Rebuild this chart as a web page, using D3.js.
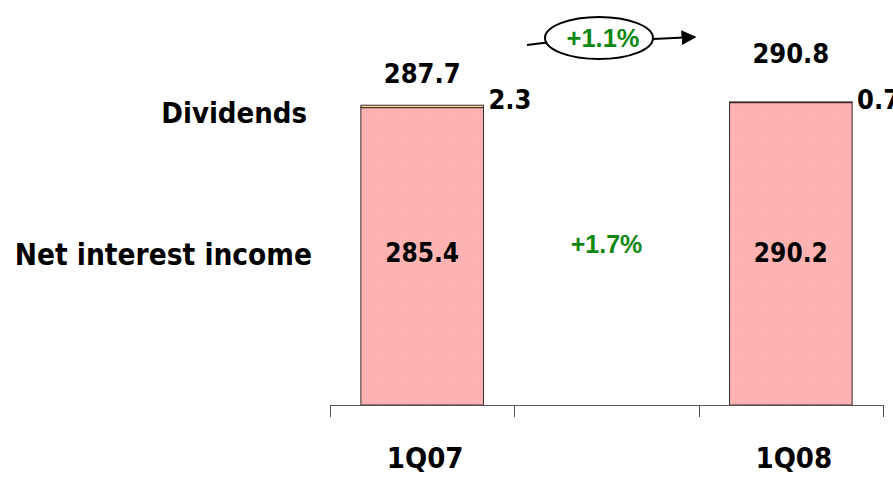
<!DOCTYPE html>
<html lang="en">
    <head>
        <meta charset="utf-8">
        <title>Net interest income</title>
        <script type="text/javascript" src="https://cdn.jsdelivr.net/npm/d3@7"></script>
        <style>
            body { margin: 0; background: #fff; }
            text { font-family: "DejaVu Sans Condensed", "DejaVu Sans", Verdana, sans-serif; font-weight: bold; }
            text.pct { font-family: "Liberation Sans", Arial, sans-serif; }
        </style>
    </head>
    <body>
        <script type="text/javascript">

            // chart data
            var slots = ["1Q07", "gap", "1Q08"];
            var periods = ["1Q07", "1Q08"];
            var netInterest = [285.4, 290.2];
            var dividends = [2.3, 0.7];
            var totals = [287.7, 290.8];
            var seriesNames = ["Dividends", "Net interest income"];
            var growthNii = "+1.7%";
            var growthTotal = "+1.1%";

            var w = 893, h = 477;
            var svg = d3.select("body").append("svg").attr("width", w).attr("height", h);

            var x = d3.scaleBand().domain(slots).range([330, 883]).padding(0);
            var y = d3.scaleLinear().domain([0, 290.8]).range([405, 102]);
            var barW = x.bandwidth() * 0.665;
            var green = "#0e880e";

            // pattern for the dotted pink fill
            var defs = svg.append("defs");
            var pat = defs.append("pattern").attr("id", "dots").attr("width", 3).attr("height", 3)
                            .attr("patternUnits", "userSpaceOnUse");
            pat.append("rect").attr("width", 3).attr("height", 3).attr("fill", "#ffb4b4");
            pat.append("rect").attr("width", 1).attr("height", 1).attr("fill", "#f9abab");
            defs.append("marker").attr("id", "arrow").attr("viewBox", "0 0 10 10")
                            .attr("refX", 9).attr("refY", 5).attr("markerWidth", 7.5).attr("markerHeight", 7.5)
                            .attr("orient", "auto")
                            .append("path").attr("d", "M0,0 L10,5 L0,10 z").attr("fill", "#000");

            var data = periods.map(function(p, i) {
                return {p: p, nii: netInterest[i], div: dividends[i], total: totals[i], i: i};
            });

            function cx(d) { return x(d.p) + x.bandwidth() / 2; }

            // bars - net interest income
            svg.selectAll("rect.nii").data(data).enter().append("rect")
                            .attr("class", "nii")
                            .attr("x", function(d) { return cx(d) - barW / 2; })
                            .attr("y", function(d) { return y(d.nii); })
                            .attr("width", barW)
                            .attr("height", function(d) { return y(0) - y(d.nii); })
                            .attr("fill", "url(#dots)")
                            .attr("stroke", "#3a2a2a").attr("stroke-width", 1);

            // bars - dividends (stacked on top)
            svg.selectAll("rect.div").data(data).enter().append("rect")
                            .attr("class", "div")
                            .attr("x", function(d) { return cx(d) - barW / 2; })
                            .attr("y", function(d) { return y(d.nii + d.div); })
                            .attr("width", barW)
                            .attr("height", function(d) { return y(d.nii) - y(d.nii + d.div); })
                            .attr("fill", "#ffd7a0")
                            .attr("stroke", "#3a2a2a").attr("stroke-width", 1);

            // x axis with ticks at slot boundaries
            var bounds = slots.map(function(s) { return x(s); }).concat([x.range()[1]]);
            svg.append("line").attr("x1", 330).attr("x2", 883).attr("y1", y(0) + 0.5).attr("y2", y(0) + 0.5)
                            .attr("stroke", "#555");
            svg.selectAll("line.tick").data(bounds).enter().append("line")
                            .attr("class", "tick")
                            .attr("x1", function(d) { return Math.round(d) + 0.5; })
                            .attr("x2", function(d) { return Math.round(d) + 0.5; })
                            .attr("y1", y(0)).attr("y2", y(0) + 12)
                            .attr("stroke", "#555");

            svg.selectAll("text.cat").data(data).enter().append("text")
                            .attr("class", "cat")
                            .attr("x", function(d) { return cx(d) + 3; })
                            .attr("y", 468)
                            .attr("text-anchor", "middle")
                            .attr("font-size", 29)
                            .text(function(d) { return d.p; });

            // values
            svg.selectAll("text.nii").data(data).enter().append("text")
                            .attr("x", function(d) { return cx(d); })
                            .attr("y", 262)
                            .attr("text-anchor", "middle").attr("font-size", 26)
                            .text(function(d) { return d.nii.toFixed(1); });

            svg.selectAll("text.div").data(data).enter().append("text")
                            .attr("x", function(d) { return cx(d) + barW / 2 + 5; })
                            .attr("y", 109)
                            .attr("font-size", 27)
                            .text(function(d) { return d.div.toFixed(1); });

            // total labels: the later one sits higher to clear the growth arrow
            var totalLift = [22, 39];
            svg.selectAll("text.total").data(data).enter().append("text")
                            .attr("x", function(d) { return cx(d); })
                            .attr("y", function(d) { return y(d.total) - totalLift[d.i]; })
                            .attr("text-anchor", "middle").attr("font-size", 27)
                            .text(function(d) { return d.total.toFixed(1); });

            // series labels on the left
            svg.append("text").attr("x", 307).attr("y", 123).attr("text-anchor", "end")
                            .attr("font-size", 29).text(seriesNames[0]);
            svg.append("text").attr("x", 312).attr("y", 265).attr("text-anchor", "end")
                            .attr("font-size", 29.5).text(seriesNames[1]);

            // growth labels
            var mid = x("gap") + x.bandwidth() / 2;
            svg.append("text").attr("class", "pct").attr("x", mid + 0).attr("y", 253).attr("text-anchor", "middle")
                            .attr("font-size", 25).attr("fill", green).text(growthNii);

            svg.append("line").attr("x1", 527).attr("y1", 45).attr("x2", 551).attr("y2", 42)
                            .attr("stroke", "#000").attr("stroke-width", 2);
            svg.append("ellipse").attr("cx", 599).attr("cy", 38).attr("rx", 54).attr("ry", 21)
                            .attr("fill", "#fff").attr("stroke", "#000").attr("stroke-width", 2);
            svg.append("line").attr("x1", 653).attr("y1", 39).attr("x2", 695).attr("y2", 37)
                            .attr("stroke", "#000").attr("stroke-width", 2).attr("marker-end", "url(#arrow)");
            svg.append("text").attr("class", "pct").attr("x", 603).attr("y", 47).attr("text-anchor", "middle")
                            .attr("font-size", 25.5).attr("fill", green).text(growthTotal);

        </script>
    </body>
</html>
